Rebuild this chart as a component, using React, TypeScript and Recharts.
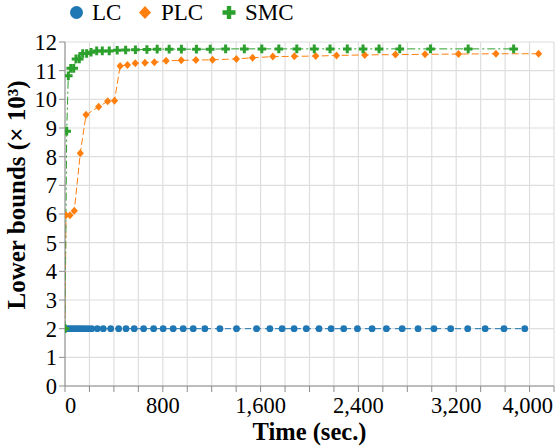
import React from 'react';
import { LineChart, Line, XAxis, YAxis, CartesianGrid } from 'recharts';

// ---------- data ----------
const lcTimes = [0, 14, 35, 55, 76, 96, 117, 139, 164, 190, 218, 264, 313, 374, 439, 499, 566, 643, 725, 803, 885, 967, 1049, 1144, 1267, 1403, 1567, 1676, 1776, 1874, 1974, 2078, 2177, 2280, 2392, 2512, 2629, 2758, 2888, 3018, 3155, 3294, 3437, 3591, 3761];
const lcValues = [2.0, 2.0, 2.0, 2.0, 2.0, 2.0, 2.0, 2.0, 2.0, 2.0, 2.0, 2.0, 2.0, 2.0, 2.0, 2.0, 2.0, 2.0, 2.0, 2.0, 2.0, 2.0, 2.0, 2.0, 2.0, 2.0, 2.0, 2.0, 2.0, 2.0, 2.0, 2.0, 2.0, 2.0, 2.0, 2.0, 2.0, 2.0, 2.0, 2.0, 2.0, 2.0, 2.0, 2.0, 2.0];

const plcTimes = [0, 8, 41, 76, 125, 172, 275, 349, 405, 451, 511, 575, 654, 731, 827, 951, 1071, 1207, 1402, 1534, 1700, 1876, 2051, 2221, 2452, 2703, 2945, 3219, 3525, 3874];
const plcValues = [2.0, 5.96, 5.96, 6.11, 8.12, 9.46, 9.74, 9.93, 9.95, 11.16, 11.2, 11.26, 11.28, 11.29, 11.35, 11.36, 11.37, 11.38, 11.41, 11.45, 11.49, 11.5, 11.51, 11.53, 11.55, 11.56, 11.57, 11.58, 11.59, 11.59];

const smcTimes = [0, 14, 27, 47, 71, 90, 117, 145, 177, 213, 259, 305, 362, 427, 496, 576, 670, 754, 852, 952, 1075, 1188, 1314, 1467, 1610, 1749, 1896, 2039, 2168, 2309, 2438, 2569, 2738, 2990, 3298, 3670];
const smcValues = [2.0, 8.89, 10.82, 11.08, 11.08, 11.41, 11.41, 11.6, 11.6, 11.64, 11.69, 11.69, 11.69, 11.71, 11.72, 11.73, 11.74, 11.75, 11.75, 11.75, 11.75, 11.75, 11.76, 11.76, 11.76, 11.76, 11.76, 11.76, 11.76, 11.76, 11.76, 11.76, 11.76, 11.76, 11.76, 11.76];

const xTicks = [0, 200, 400, 600, 800, 1000, 1200, 1400, 1600, 1800, 2000, 2200, 2400, 2600, 2800, 3000, 3200, 3400, 3600, 3800, 4000];
const yTicks = [0, 1, 2, 3, 4, 5, 6, 7, 8, 9, 10, 11, 12];
const seriesNames = ['LC', 'PLC', 'SMC'];

const BLUE = '#1f77b4';
const ORANGE = '#ff7f0e';
const GREEN = '#2ca02c';
const FONT = 'Liberation Serif, serif';
const txt = { fontFamily: FONT };

const toRows = (ts: number[], vs: number[]) => ts.map((t, i) => ({ t, v: vs[i] }));
const lcData = toRows(lcTimes, lcValues);
const plcData = toRows(plcTimes, plcValues);
const smcData = toRows(smcTimes, smcValues);

// ---------- markers ----------
const circleDot = (p: any) => (
  <circle key={`c${p.index}`} cx={p.cx} cy={p.cy} r={3.4} fill={BLUE} />
);
const diamondDot = (p: any) => {
  const { cx, cy } = p;
  return (
    <polygon
      key={`d${p.index}`}
      points={`${cx},${cy - 4} ${cx + 3.6},${cy} ${cx},${cy + 4} ${cx - 3.6},${cy}`}
      fill={ORANGE}
    />
  );
};
const plusPath = (cx: number, cy: number, a: number, w: number) =>
  `M${cx - w},${cy - a}h${2 * w}v${a - w}h${a - w}v${2 * w}h${-(a - w)}v${a - w}h${-2 * w}v${-(a - w)}h${-(a - w)}v${-2 * w}h${a - w}z`;
const plusDot = (p: any) => (
  <path key={`p${p.index}`} d={plusPath(p.cx, p.cy, 4.3, 1.5)} fill={GREEN} />
);

// ---------- ticks ----------
const fmt = (v: number) => v.toLocaleString('en-US');
const XTick = (props: any) => {
  const { x, y, payload } = props;
  const v = payload.value;
  if (v % 800 !== 0) return null;
  let anchor: 'start' | 'middle' | 'end' = 'middle';
  let dx = 0;
  if (v === 0) anchor = 'start';
  if (v === 4000) { anchor = 'end'; dx = -1; }
  return (
    <text x={x + dx} y={y} dy={19} textAnchor={anchor} fontSize={22.5} style={txt} fill="#000">
      {fmt(v)}
    </text>
  );
};

const XTitle = (props: any) => {
  const vb = props.viewBox;
  return (
    <text x={vb.x + vb.width / 2} y={vb.y + 54} textAnchor="middle" fontSize={24.5} fontWeight="bold" style={txt} fill="#000">
      Time (sec.)
    </text>
  );
};
const YTitle = (props: any) => {
  const vb = props.viewBox;
  const cx = 25;
  const cy = vb.y + vb.height / 2 - 19;
  return (
    <text x={cx} y={cy} transform={`rotate(-90 ${cx} ${cy})`} textAnchor="middle" fontSize={25} fontWeight="bold" style={txt} fill="#000">
      Lower bounds (× 10³)
    </text>
  );
};

const Legendish = () => (
  <svg width={556} height={30} style={{ position: 'absolute', left: 0, top: 0 }}>
    <circle cx={76.5} cy={12.5} r={6.5} fill={BLUE} />
    <text x={92} y={20} fontSize={23} style={txt} fill="#000">{seriesNames[0]}</text>
    <polygon points="145,6 151,12.5 145,19 139,12.5" fill={ORANGE} />
    <text x={161} y={20} fontSize={23} style={txt} fill="#000">{seriesNames[1]}</text>
    <path d={plusPath(229, 12.5, 6.5, 2.2)} fill={GREEN} />
    <text x={245} y={20} fontSize={23} style={txt} fill="#000">{seriesNames[2]}</text>
  </svg>
);

export default function App() {
  return (
    <div style={{ position: 'absolute', left: 0, top: 0, width: 556, height: 447, background: '#fff', fontFamily: FONT }}>
      <LineChart width={556} height={447} margin={{ top: 42, right: 2, bottom: 0, left: 0 }} style={txt}>
        <CartesianGrid stroke="#dedede" strokeWidth={1.2} />
        <XAxis
          type="number"
          dataKey="t"
          domain={[0, 4000]}
          ticks={xTicks}
          interval={0}
          height={61}
          tick={<XTick />}
          tickSize={6}
          tickMargin={2}
          stroke="#8c8c8c"
          allowDataOverflow
          label={<XTitle />}
        />
        <YAxis
          type="number"
          domain={[0, 12]}
          ticks={yTicks}
          interval={0}
          width={65}
          tickSize={6}
          tickMargin={2}
          stroke="#8c8c8c"
          tick={{ fontSize: 22.5, fontFamily: FONT, fill: '#000', style: txt }}
          label={<YTitle />}
        />
        <Line data={lcData} dataKey="v" name={seriesNames[0]} stroke={BLUE} strokeWidth={1} strokeDasharray="6 4" dot={circleDot} activeDot={false} isAnimationActive={false} type="linear" />
        <Line data={plcData} dataKey="v" name={seriesNames[1]} stroke={ORANGE} strokeWidth={1} strokeDasharray="7 3" dot={diamondDot} activeDot={false} isAnimationActive={false} type="linear" />
        <Line data={smcData} dataKey="v" name={seriesNames[2]} stroke={GREEN} strokeWidth={1} strokeDasharray="8 3 2 3" dot={plusDot} activeDot={false} isAnimationActive={false} type="linear" />
      </LineChart>
      <Legendish />
    </div>
  );
}
